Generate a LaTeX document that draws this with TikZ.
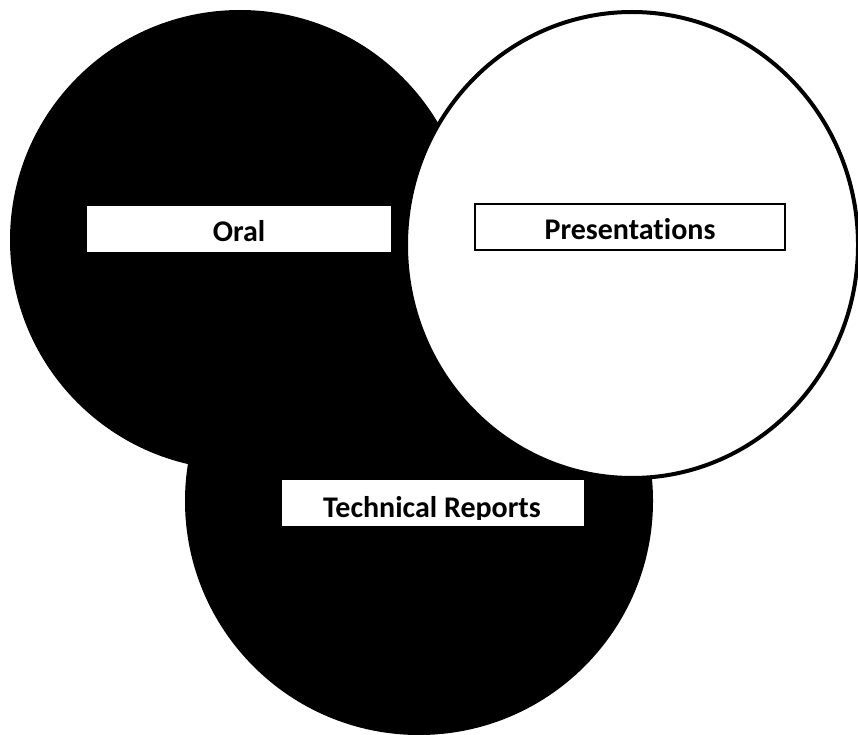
\documentclass[tikz,border=0pt]{standalone}
\usepackage{fontspec}
\setmainfont[Ligatures=NoCommon]{Carlito}
\begin{document}
\begin{tikzpicture}[x=1pt,y=-1pt,
  blob/.style={fill=black},
  ring/.style={fill=white,draw=black,line width=4pt},
  labelbox/.style={fill=white,inner sep=0pt,text height=35pt,text depth=11pt,
    font=\fontsize{30}{31}\selectfont\bfseries},
  labeltext/.style={inner sep=0pt,anchor=base,font=\fontsize{30}{31}\selectfont\bfseries}]
\useasboundingbox (0,0) rectangle (858,735);
\fill[white] (0,0) rectangle (858,735);
% circles
\node[blob,circle,minimum size=460pt,inner sep=0pt] (oralc) at (240,240) {};
\node[blob,circle,minimum size=468pt,inner sep=0pt] (techc) at (419,501) {};
\draw[ring] (632,245) ellipse [x radius=226pt, y radius=233pt];
\coordinate (presc) at (632,245);
% labels
\node[labelbox,minimum width=304pt] (oral) at (239,229) {Oral};
\node[labelbox,minimum width=310pt,draw=black,line width=1.6pt] (pres) at (630,227) {Presentat\kern0pt ions};
\node[fill=white,inner sep=0pt,minimum width=302pt,minimum height=46pt] (techbox) at (433,503) {};
\begin{scope}
\clip (282,480) rectangle (584,519);
\node[labeltext] (tech) at (432,517) {Technical Reports};
\end{scope}
\end{tikzpicture}
\end{document}
